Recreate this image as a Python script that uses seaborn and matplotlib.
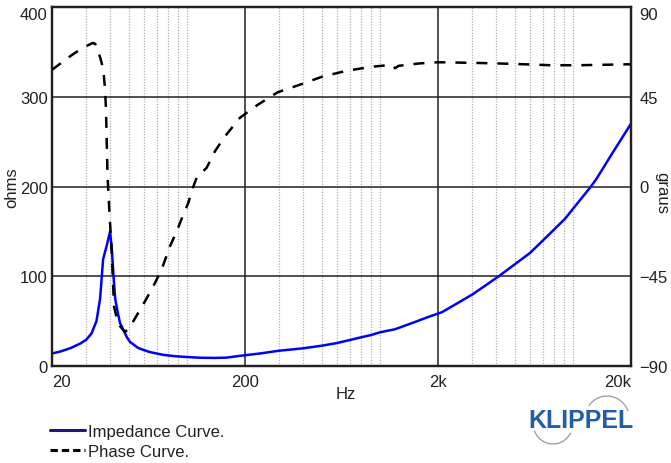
import pandas as pd
import matplotlib.pyplot as plt
from matplotlib.lines import Line2D
from matplotlib.patches import Arc
from matplotlib.ticker import FixedLocator, NullFormatter
import seaborn as sns

# === Datos: curva de impedancia (Hz, ohms)
imp_freq = [20, 22, 25, 28, 30, 32, 34, 35.5, 36.8, 38.5, 40, 40.9, 41.6, 42.5, 43.8, 45, 47.4,
            48.9, 50.6, 56, 64, 75, 86, 100, 117, 140, 160, 188, 240, 300, 400, 500, 600, 700,
            800, 900, 1000, 1200, 1500, 1800, 2100, 3030, 4130, 6000, 7000, 9100, 10000, 12400,
            13200, 16000, 20000]
imp_ohms = [14, 16, 20, 25, 29, 36, 50, 75, 119, 135, 150, 128, 102, 75, 60, 48, 38,
            32, 27, 20, 15.6, 12.5, 11, 10, 9.2, 9, 9.3, 11.3, 14, 17, 19.7, 22.6, 25.6, 29,
            32, 34.5, 37.5, 41, 48.6, 55, 60, 80, 100, 126, 140, 164, 175, 200,
            208, 237, 270]

# === Datos: curva de fase (Hz, grados)
fase_freq = [20, 22, 25, 28, 31, 32.6, 33.5, 34.5, 35.7, 36.9, 37.6, 38.1, 38.4, 38.8, 39.6,
             40.8, 41.9, 43.5, 45, 47.8, 50, 52.8, 60.7, 67, 74, 81.7, 88.6, 95, 101.7, 107,
             112.4, 118, 126.6, 139.8, 157.6, 188, 233, 296, 384, 500, 670, 900, 1150, 1200,
             1250, 1600, 2000, 3000, 4100, 5500, 7700, 10500, 14000, 20000]
fase_grados = [58.5, 61.5, 65.5, 68.7, 71, 72, 71.5, 68.5, 64, 58.7, 49.5, 38.6, 23.6, 5.2, -11.5,
               -33, -60, -67, -70, -73, -71, -67.5, -57.5, -50, -41.6, -30, -22.4, -15, -8.2, -1,
               4.4, 6.5, 9.4, 17.7, 25.2, 34.4, 41, 47.3, 51, 55, 58, 60, 61, 59.3,
               60.5, 61.7, 62.3, 62, 61.7, 61.3, 60.8, 60.8, 61, 61.3]

# === Ejes
xticks = [20, 200, 2000, 20000]
xtick_labels = ["20", "200", "2k", "20k"]
xminor = [30, 40, 50, 60, 70, 80, 90, 100, 300, 400, 500, 600, 700, 800, 900, 1000,
          3000, 4000, 5000, 6000, 7000, 8000, 9000, 10000]
yticks_ohms = [0, 100, 200, 300, 400]
yticks_grados = [-90, -45, 0, 45, 90]

df_imp = pd.DataFrame({"Hz": imp_freq, "ohms": imp_ohms})
df_fase = pd.DataFrame({"Hz": fase_freq, "graus": fase_grados})

sns.set_style("white")
plt.rcParams["font.family"] = ["Liberation Sans", "DejaVu Sans"]
texto = "#222222"
borde = "#231f20"

fig = plt.figure(figsize=(6.71, 4.64), dpi=100)
ax = fig.add_axes([52 / 671, 97 / 464, 579 / 671, 359 / 464])
ax2 = ax.twinx()

# === Curvas
sns.lineplot(data=df_imp, x="Hz", y="ohms", ax=ax, color="#0000ff", linewidth=1.8,
             estimator=None, sort=False, zorder=5)
sns.lineplot(data=df_fase, x="Hz", y="graus", ax=ax2, color="black", linewidth=1.8,
             estimator=None, sort=False, zorder=5)
ax2.lines[0].set_dashes((4.4, 4.0))

ax.set_xscale("log")
ax.set_xlim(20, 20000)
ax.set_ylim(0, 400)
ax2.set_ylim(-90, 90)

ax.set_xticks(xticks)
ax.set_xticklabels(xtick_labels)
ax.xaxis.set_minor_locator(FixedLocator(xminor))
ax.xaxis.set_minor_formatter(NullFormatter())
ax.set_yticks(yticks_ohms)
ax2.set_yticks(yticks_grados)

# === Rejilla
ax.grid(which="major", color=borde, linewidth=1.1, linestyle="-")
ax.grid(which="minor", axis="x", color="#b0b0b0", linewidth=0.9, linestyle=(0, (1, 1.2)))
ax.set_axisbelow(True)
ax2.grid(False)

for a in (ax, ax2):
    for s in a.spines.values():
        s.set_color(borde)
        s.set_linewidth(1.6)
    a.tick_params(which="both", length=0, labelsize=12, labelcolor=texto)
ax.tick_params(axis="x", pad=6)
ax.tick_params(axis="y", pad=3)
ax2.tick_params(axis="y", pad=6)

# alineaciones de los extremos como en el original
xl = ax.get_xticklabels()
xl[0].set_ha("left")
xl[-1].set_ha("right")
ax.get_yticklabels()[-1].set_va("top")
ax2.get_yticklabels()[-1].set_va("top")

ax.set_xlabel("Hz", fontsize=12, color=texto)
ax.xaxis.set_label_coords((346 - 52) / 579, (367 - 387) / 359)
ax.set_ylabel("ohms", fontsize=12, color=texto)
ax.yaxis.set_label_coords((19 - 52) / 579, 0.5)
ax2.set_ylabel("graus", fontsize=12, color=texto, rotation=270, va="center")
ax2.yaxis.set_label_coords((662 - 52) / 579, (367 - 193) / 359)

# === Leyenda
handles = [
    Line2D([], [], color="#1c1880", linewidth=2.2),
    Line2D([], [], color="black", linewidth=2.2, dashes=(2.4, 1.3)),
]
fig.legend(handles, ["Impedance Curve.", "Phase Curve."], loc="upper left",
           bbox_to_anchor=(50 / 671, 1 - 425 / 464), frameon=False, borderpad=0,
           borderaxespad=0, handlelength=2.1, handletextpad=0.2, labelspacing=0.28,
           fontsize=12, labelcolor=texto)

# === Logo
logo = fig.add_axes([520 / 671, 14 / 464, 120 / 671, 60 / 464])
logo.set_xlim(520, 640)
logo.set_ylim(450, 390)
logo.axis("off")
logo.add_patch(Arc((607, 422), 46, 50, theta1=220, theta2=335, color="#9a9a9a", linewidth=0.9))
logo.add_patch(Arc((553, 424), 40, 42, theta1=28, theta2=158, color="#9a9a9a", linewidth=0.9))
logo.text(581, 421, "KLIPPEL", ha="center", va="center", fontsize=18, fontweight="bold",
          color="#1f5fa6")

plt.savefig("out.png", dpi=100)
plt.close()
